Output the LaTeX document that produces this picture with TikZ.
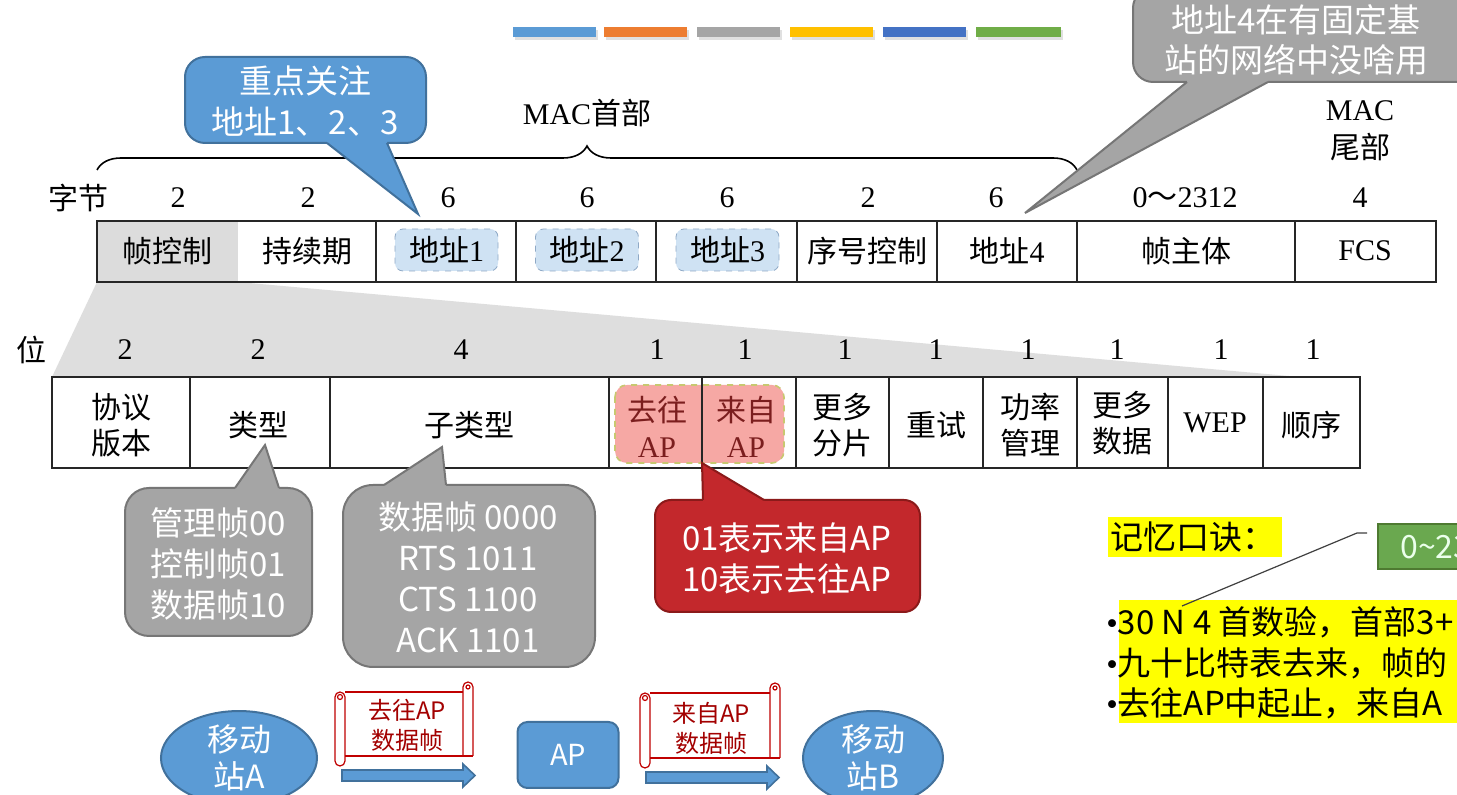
\documentclass[tikz,border=0pt]{standalone}
\usepackage{fontspec}
\setmainfont{Liberation Serif}
\newfontfamily\cjk{Noto Sans CJK SC}
\usetikzlibrary{decorations.pathreplacing,shapes.geometric}
\newcommand\zh[1]{{\cjk #1}}
\newcommand\blt{{\rmfamily •}}
\definecolor{barA}{HTML}{5B9BD5}
\definecolor{barB}{HTML}{ED7D31}
\definecolor{barC}{HTML}{A5A5A5}
\definecolor{barD}{HTML}{FFC000}
\definecolor{barE}{HTML}{4472C4}
\definecolor{barF}{HTML}{70AD47}
\definecolor{cblue}{HTML}{5B9BD5}
\definecolor{cblueb}{HTML}{41719C}
\definecolor{cgray}{HTML}{A5A5A5}
\definecolor{cgrayb}{HTML}{767676}
\definecolor{cred}{HTML}{C3282C}
\definecolor{credb}{HTML}{8B1A1A}
\definecolor{addrf}{HTML}{CFE2F3}
\definecolor{addrb}{HTML}{8FA9C6}
\definecolor{pinkf}{HTML}{F6A8A4}
\definecolor{pinkb}{HTML}{C8C870}
\definecolor{pinkt}{HTML}{7B1E1E}
\definecolor{fan}{HTML}{DEDEDE}
\definecolor{ctrl}{HTML}{DCDCDC}
\definecolor{hl}{HTML}{FFFF00}
\definecolor{gbox}{HTML}{6AA84F}
\definecolor{gboxb}{HTML}{4E7A31}
\definecolor{scr}{HTML}{C00000}
\newcommand\myscroll[4]{%
  \draw[scrollline] (#1+10,#2+10) -- (#3-10,#2+10);
  \draw[scrollline] (#1+10,#4-10) -- (#3,#4-10);
  \draw[scrollline] (#3-10,#4-10) -- (#3-10,#2+5) arc (180:360:5) -- (#3,#4-10);
  \draw[scrollline] (#3-5,#2+5) circle (2);
  \draw[scrollline] (#1+10,#2+15) -- (#1+10,#4-5) arc (0:180:5) -- (#1,#2+15) arc (180:360:5);
  \draw[scrollline] (#1+5,#2+15) circle (2.5);
}
\begin{document}
\begin{tikzpicture}[x=0.5pt,y=-0.5pt,
  tbl/.style={draw=black!85, line width=1pt},
  tt/.style={font=\fontsize{15}{18}\selectfont, align=center, inner sep=0pt},
  addr/.style={draw=addrb, dashed, fill=addrf, rounded corners=4pt, minimum width=51.5pt, minimum height=21pt, inner sep=0pt, font=\fontsize{15}{18}\selectfont},
  ctext/.style={font=\cjk\fontsize{16.5}{20.5}\selectfont, text=white, align=center, inner sep=0pt},
  calloutblue/.style={fill=cblue, draw=cblueb, line width=1pt},
  calloutgray/.style={fill=cgray, draw=cgrayb, line width=1pt},
  calloutred/.style={fill=cred, draw=credb, line width=1pt},
  station/.style={ellipse, fill=cblue, draw=cblueb, line width=1pt, text=white, align=center, inner sep=0pt, font=\cjk\fontsize{16}{18.5}\selectfont},
  apbox/.style={rectangle, rounded corners=5pt, fill=cblue, draw=cblueb, line width=1pt, text=white, font=\cjk\fontsize{14.5}{17}\selectfont, minimum width=50.5pt, minimum height=33pt},
  scrollline/.style={draw=scr, line width=0.6pt},
  scrolltext/.style={font=\cjk\fontsize{12}{15}\selectfont, text=scr!85!black, align=center, inner sep=0pt},
  blockarrow/.style={fill=cblue, draw=cblueb, line width=0.8pt},
  mtext/.style={font=\cjk\fontsize{16.5}{20}\selectfont, anchor=west, inner sep=0pt}
]
\useasboundingbox (0,0) rectangle (1457,795);
\fill[white] (0,0) rectangle (1457,795);

% colour bars
\foreach \a/\b/\c in {513/596/barA, 604/687/barB, 697/780/barC, 790/873/barD, 883/966/barE, 976/1061/barF}{
  \fill[black!12] (\a+2,30) rectangle (\b+2,40);
  \fill[\c] (\a,27) rectangle (\b,37);
}

% fan between frame control and bit row
\fill[fan] (97,282) -- (238,282) -- (1300,377) -- (52,377) -- cycle;

% frame row
\fill[ctrl] (97,221) rectangle (238,282);
\draw[tbl] (97,221) rectangle (1436,282);
\foreach \x in {376,516,656,797,937,1077,1295} \draw[tbl] (\x,221) -- (\x,282);

\node[tt] (f1) at (167,251) {\zh{帧控制}};
\node[tt] (f2) at (307,251) {\zh{持续期}};
\node[addr] (f3) at (446.5,250) {\zh{地址}1};
\node[addr] (f4) at (587,250) {\zh{地址}2};
\node[addr] (f5) at (727.5,250) {\zh{地址}3};
\node[tt] (f6) at (867,251) {\zh{序号控制}};
\node[tt] (f7) at (1007,251) {\zh{地址}4};
\node[tt] (f8) at (1186,251) {\zh{帧主体}};
\node[tt] (f9) at (1365,251) {FCS};

% byte counts
\node[tt] (zj) at (78,198) {\zh{字节}};
\node[tt] (n1) at (178,198) {2};
\node[tt] (n2) at (308,198) {2};
\node[tt] (n3) at (448,198) {6};
\node[tt] (n4) at (587,198) {6};
\node[tt] (n5) at (727,198) {6};
\node[tt] (n6) at (868,198) {2};
\node[tt] (n7) at (996,198) {6};
\node[tt] (n8) at (1185,198) {0\zh{～}2312};
\node[tt] (n9) at (1360,198) {4};

% MAC header brace
\draw[decorate, decoration={brace, amplitude=12pt}, line width=0.8pt] (97,170) -- (1077,170);
\node[tt] (mach) at (587,113) {MAC\zh{首部}};
\node[tt, font=\fontsize{15}{19}\selectfont] (mact) at (1360,131) {MAC\\\zh{尾部}};

% bit row
\fill[white] (52,377) rectangle (1360,468);
\filldraw[fill=pinkf, draw=pinkb, dashed, line width=0.8pt, rounded corners=6pt] (615,385) rectangle (784,463);
\draw[tbl] (52,377) rectangle (1360,468);
\foreach \x in {190,330,609,702,796,889,983,1077,1168,1263} \draw[tbl] (\x,377) -- (\x,468);

\node[tt] (w) at (32,350) {\zh{位}};
\node[tt] (m1) at (125,350) {2};
\node[tt] (m2) at (258,350) {2};
\node[tt] (m3) at (461,350) {4};
\node[tt] (m4) at (657,350) {1};
\node[tt] (m5) at (745,350) {1};
\node[tt] (m6) at (845,350) {1};
\node[tt] (m7) at (936,350) {1};
\node[tt] (m8) at (1028,350) {1};
\node[tt] (m9) at (1117,350) {1};
\node[tt] (m10) at (1221,350) {1};
\node[tt] (m11) at (1313,350) {1};

\node[tt] (b1) at (121,425) {\zh{协议}\\\zh{版本}};
\node[tt] (b2) at (258,425) {\zh{类型}};
\node[tt] (b3) at (469,425) {\zh{子类型}};
\node[tt, text=pinkt] (b4) at (657,427) {\zh{去往}\\AP};
\node[tt, text=pinkt] (b5) at (746,427) {\zh{来自}\\AP};
\node[tt] (b6) at (842,425) {\zh{更多}\\\zh{分片}};
\node[tt] (b7) at (936,425) {\zh{重试}};
\node[tt] (b8) at (1030,425) {\zh{功率}\\\zh{管理}};
\node[tt] (b9) at (1122,423) {\zh{更多}\\\zh{数据}};
\node[tt] (b10) at (1215,423) {WEP};
\node[tt] (b11) at (1311,425) {\zh{顺序}};

% blue callout
\filldraw[calloutblue, rounded corners=10pt] (185,57) rectangle (426,143);
\fill[cblue] (327,139) -- (387,139) -- (387,143) -- (418,214) -- (327,143) -- cycle;
\draw[cblueb, line width=1pt] (327,143) -- (418,214) -- (387,143);
\node[ctext] (cb) at (305,101) {重点关注\\地址1、2、3};

% gray callout top right
\filldraw[calloutgray, rounded corners=10pt] (1133,-12) rectangle (1475,82);
\fill[cgray] (1187,78) -- (1268,78) -- (1268,82) -- (1025,213) -- (1187,82) -- cycle;
\draw[cgrayb, line width=1pt] (1187,82) -- (1025,213) -- (1268,82);
\node[ctext, font=\cjk\fontsize{16.5}{20}\selectfont] (cg0) at (1296,40) {地址4在有固定基\\站的网络中没啥用};

% gray callout: type
\filldraw[calloutgray, rounded corners=12pt] (125,488) rectangle (312,636);
\fill[cgray] (235,492) -- (279,492) -- (279,488) -- (265,445) -- (235,488) -- cycle;
\draw[cgrayb, line width=1pt] (235,488) -- (265,445) -- (279,488);
\node[ctext] (cg1) at (218,564) {管理帧00\\控制帧01\\数据帧10};

% gray callout: subtype
\filldraw[calloutgray, rounded corners=15pt] (343,485) rectangle (595,667);
\fill[cgray] (384,489) -- (446,489) -- (446,485) -- (442,447) -- (384,485) -- cycle;
\draw[cgrayb, line width=1pt] (384,485) -- (442,447) -- (446,485);
\node[ctext] (cg2) at (468,577) {数据帧 0000\\RTS 1011\\CTS 1100\\ACK 1101};

% red callout
\filldraw[calloutred, rounded corners=8pt] (655,500) rectangle (920,612);
\fill[cred] (703,504) -- (764,504) -- (764,500) -- (702,463) -- (703,500) -- cycle;
\draw[credb, line width=1pt] (703,500) -- (702,463) -- (764,500);
\node[ctext] (cr) at (787,558) {01表示来自AP\\10表示去往AP};

% mnemonic
\fill[hl] (1108,517) rectangle (1282,557);
\node[mtext] (mk) at (1110,537) {记忆口诀：};
\fill[gbox] (1378,524) rectangle (1475,569);
\draw[gboxb, line width=1pt] (1475,524) -- (1378,524) -- (1378,569) -- (1475,569);
\node[mtext, text=green!8, font=\cjk\fontsize{16}{20}\selectfont] (gb) at (1400,547) {0\textasciitilde 2312};
\fill[hl] (1119,600) rectangle (1470,723);
\draw[black!75, line width=0.6pt] (1182,606) -- (1357,533) -- (1367,533);
\node[mtext] (l1) at (1106,622) {\blt 30 N 4 首数验，首部3+};
\node[mtext] (l2) at (1106,663) {\blt 九十比特表去来，帧的};
\node[mtext] (l3) at (1106,703) {\blt 去往AP中起止，来自A};

% bottom flow
\node[station, minimum width=78pt, minimum height=44pt] (sa) at (239,758) {移动\\站A};
\node[apbox] (ap) at (568,755) {AP};
\node[station, minimum width=70pt, minimum height=44pt] (sb) at (873,758) {移动\\站B};

\myscroll{335}{682}{473}{766}
\node[scrolltext] (s1) at (407,725) {去往AP\\数据帧};
\myscroll{640}{683}{780}{768}
\node[scrolltext] (s2) at (711,728) {来自AP\\数据帧};

\filldraw[blockarrow] (342,770) -- (463,770) -- (463,764) -- (475,775.5) -- (463,787) -- (463,781) -- (342,781) -- cycle;
\filldraw[blockarrow] (646,772) -- (767,772) -- (767,766) -- (779,777.5) -- (767,789) -- (767,783) -- (646,783) -- cycle;
\end{tikzpicture}
\end{document}
